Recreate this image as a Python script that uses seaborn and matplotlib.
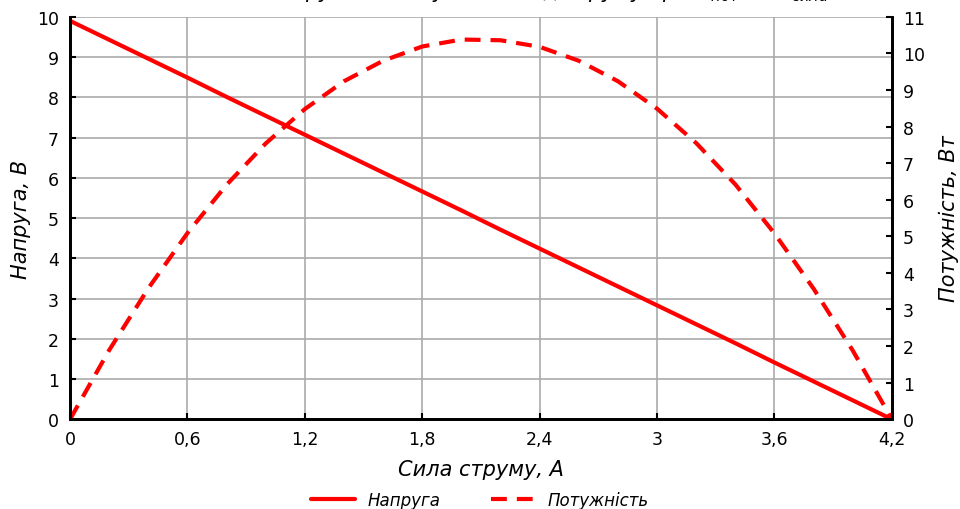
import matplotlib

matplotlib.use("Agg")
import matplotlib.pyplot as plt
import pandas as pd
import seaborn as sns

# data
current = [0.0, 0.2, 0.4, 0.6, 0.8, 1.0, 1.2, 1.4, 1.6, 1.8, 2.0,
           2.2, 2.4, 2.6, 2.8, 3.0, 3.2, 3.4, 3.6, 3.8, 4.0, 4.2]
voltage = [9.9, 9.43, 8.96, 8.49, 8.01, 7.54, 7.07, 6.6, 6.13, 5.66, 5.19,
           4.71, 4.24, 3.77, 3.3, 2.83, 2.36, 1.89, 1.41, 0.94, 0.47, 0.0]
power = [0.0, 1.89, 3.58, 5.09, 6.41, 7.54, 8.48, 9.24, 9.8, 10.19, 10.38,
         10.36, 10.18, 9.8, 9.24, 8.49, 7.55, 6.42, 5.08, 3.57, 1.88, 0.0]

x_ticks = [0, 0.6, 1.2, 1.8, 2.4, 3.0, 3.6, 4.2]
x_tick_labels = ["0", "0,6", "1,2", "1,8", "2,4", "3", "3,6", "4,2"]
left_ticks = list(range(0, 11))
right_ticks = list(range(0, 12))

df = pd.DataFrame({"I": current, "U": voltage, "P": power})

sns.set_theme(style="white")
plt.rcParams["font.family"] = ["Liberation Sans Narrow", "DejaVu Sans"]
plt.rcParams["text.color"] = "black"
plt.rcParams["axes.labelcolor"] = "black"
plt.rcParams["xtick.color"] = "black"
plt.rcParams["ytick.color"] = "black"

fig, ax = plt.subplots(figsize=(9.6, 5.1), dpi=100)
fig.subplots_adjust(left=0.073, right=0.929, bottom=0.176, top=0.965)
ax2 = ax.twinx()

sns.lineplot(data=df, x="I", y="U", ax=ax, color="#ff0000", lw=3, label="Напруга")
sns.lineplot(data=df, x="I", y="P", ax=ax2, color="#ff0000", lw=3,
             label="Потужність", dashes=False)
ax2.lines[0].set_dashes((3.8, 2.4))

ax.set_xlim(0, 4.2)
ax.set_ylim(0, 10)
ax2.set_ylim(0, 11)
ax.set_xticks(x_ticks)
ax.set_xticklabels(x_tick_labels)
ax.set_yticks(left_ticks)
ax2.set_yticks(right_ticks)

ax.grid(True, color="#aaaaaa", lw=1.2)
ax.set_axisbelow(True)
ax2.grid(False)

for a in (ax, ax2):
    a.tick_params(direction="in", length=4, width=1.5, color="black",
                  labelsize=12.5, pad=8, labelcolor="black")
    for side in ("left", "bottom", "right"):
        a.spines[side].set_visible(True)
        a.spines[side].set_color("black")
        a.spines[side].set_linewidth(2)
    a.spines["top"].set_visible(False)
ax.tick_params(axis="y", left=True, right=False)
ax.tick_params(axis="x", bottom=True)
ax2.tick_params(axis="y", right=True, left=False)

ax.set_xlabel("Сила струму, А", fontsize=15, style="italic", labelpad=8, color="black")
ax.set_ylabel("Напруга, В", fontsize=15, style="italic", labelpad=4, color="black")
ax2.set_ylabel("Потужність, Вт", fontsize=15, style="italic", labelpad=10, color="black")

h1, l1 = ax.get_legend_handles_labels()
h2, l2 = ax2.get_legend_handles_labels()
ax.get_legend().remove()
ax2.get_legend().remove()
fig.legend(h1 + h2, l1 + l2, loc="lower center", ncol=2, frameon=False,
           bbox_to_anchor=(0.5, -0.03), prop={"size": 12, "style": "italic"},
           handlelength=2.6, columnspacing=3, labelcolor="black")

# title cut off at the top edge of the original image
fig.text(0.5, 1.004, "Залежність напруги та потужності від струму при R$_{пот}$ та R$_{сила}$",
         ha="center", va="baseline", fontsize=15, style="italic", color="black")

fig.savefig("out.png", dpi=100)
